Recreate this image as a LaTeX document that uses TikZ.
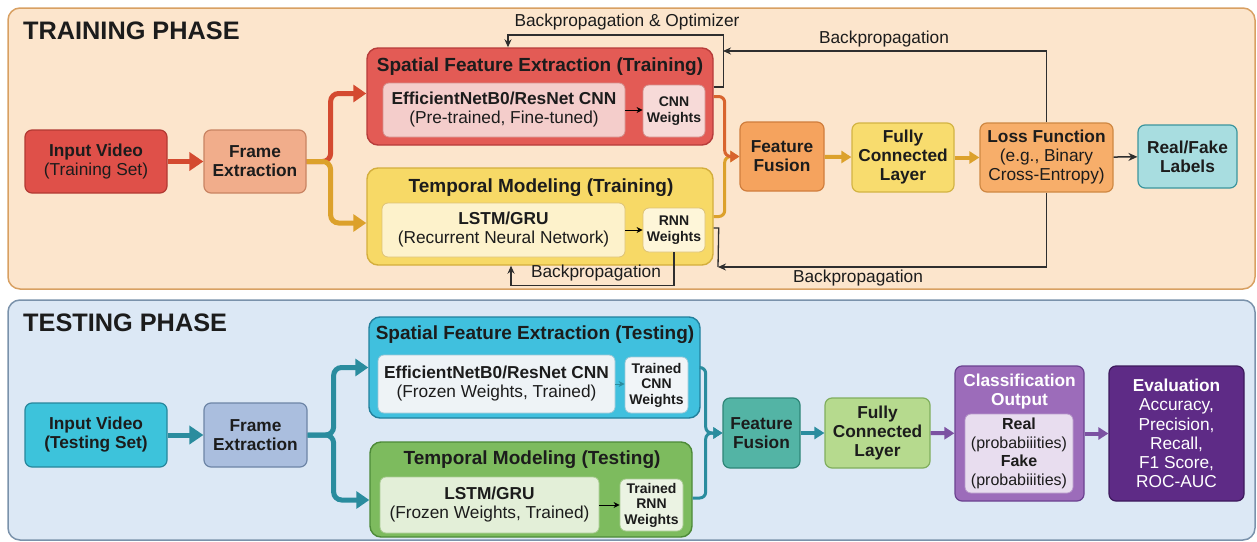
\documentclass[tikz,border=0pt]{standalone}
\usepackage{fontspec}
\setmainfont{Liberation Sans}
\usetikzlibrary{arrows.meta,calc}

\definecolor{txt}{HTML}{1C1C1C}
\definecolor{bpc}{HTML}{2E2E2E}
\definecolor{trainBg}{HTML}{FCE5CC}
\definecolor{trainBd}{HTML}{D8A062}
\definecolor{testBg}{HTML}{DCE8F5}
\definecolor{testBd}{HTML}{7A92AB}
% training colours
\definecolor{inTf}{HTML}{DF5049}\definecolor{inTd}{HTML}{B23A33}
\definecolor{frTf}{HTML}{F1AD8B}\definecolor{frTd}{HTML}{C98463}
\definecolor{spTf}{HTML}{E35B55}\definecolor{spTd}{HTML}{B73C3A}
\definecolor{effTf}{HTML}{F4CDCB}\definecolor{effTd}{HTML}{D4918E}
\definecolor{cnnTf}{HTML}{F7DAD8}
\definecolor{tpTf}{HTML}{F7D966}\definecolor{tpTd}{HTML}{D4AE3C}
\definecolor{lsTf}{HTML}{FDF2CB}\definecolor{lsTd}{HTML}{DDC277}
\definecolor{rnTf}{HTML}{FEF6D9}
\definecolor{ffTf}{HTML}{F5A35E}\definecolor{ffTd}{HTML}{D07E3D}
\definecolor{fcTf}{HTML}{F8DC6E}\definecolor{fcTd}{HTML}{D3B443}
\definecolor{lossf}{HTML}{F7AE6A}\definecolor{lossd}{HTML}{CF8843}
\definecolor{rff}{HTML}{A8DDE0}\definecolor{rfd}{HTML}{3B959D}
% testing colours
\definecolor{inSf}{HTML}{3DC3DB}\definecolor{inSd}{HTML}{27879C}
\definecolor{frSf}{HTML}{AABEDE}\definecolor{frSd}{HTML}{6D85A6}
\definecolor{spSf}{HTML}{40C0DE}\definecolor{spSd}{HTML}{22809C}
\definecolor{effSf}{HTML}{EEF3F6}\definecolor{effSd}{HTML}{9EC8D6}
\definecolor{cnnSf}{HTML}{F1F5F8}
\definecolor{tpSf}{HTML}{7DBB5E}\definecolor{tpSd}{HTML}{4D8A38}
\definecolor{lsSf}{HTML}{E3EFD8}\definecolor{lsSd}{HTML}{A9CB92}
\definecolor{rnSf}{HTML}{EBF3E3}
\definecolor{ffSf}{HTML}{53B4A5}\definecolor{ffSd}{HTML}{2E8577}
\definecolor{fcSf}{HTML}{B6DA8E}\definecolor{fcSd}{HTML}{80AE5E}
\definecolor{clsf}{HTML}{9C6CBA}\definecolor{clsd}{HTML}{6B4290}
\definecolor{clsIf}{HTML}{E8DDEF}\definecolor{clsId}{HTML}{B89BCB}
\definecolor{evf}{HTML}{5E2B86}\definecolor{evd}{HTML}{3D1A5C}
% arrow colours
\definecolor{redA}{HTML}{D44A30}
\definecolor{goldA}{HTML}{DCA12B}
\definecolor{orA}{HTML}{D8642E}
\definecolor{tealA}{HTML}{2A8C9E}
\definecolor{purA}{HTML}{7C52A2}

\newcommand\ftNode{\fontsize{17.3}{19}\selectfont}
\newcommand\ftW{\fontsize{14}{15.5}\selectfont}
\newcommand\ftG{\fontsize{19}{21}\selectfont}
\newcommand\ftPh{\fontsize{25.3}{28}\selectfont}
\newcommand\ftSm{\fontsize{16}{18.7}\selectfont}

\begin{document}
\begin{tikzpicture}[x=1pt,y=-1pt,
  sz/.style 2 args={minimum width=#1pt, minimum height=#2pt},
  panel/.style={draw, rounded corners=12pt, line width=1.5pt, inner sep=0pt},
  box/.style={draw, rounded corners=7pt, line width=1.2pt, align=center, inner sep=0pt, text=txt, font=\ftNode},
  bbox/.style={box, font=\ftNode\bfseries},
  grp/.style={draw, rounded corners=11pt, line width=1.4pt, inner sep=0pt},
  gtitle/.style={font=\ftG\bfseries, text=txt, inner sep=0pt},
  inbox/.style={draw, rounded corners=6pt, line width=0.8pt, align=center, inner sep=0pt, text=txt, font=\ftNode},
  wbox/.style={inbox, font=\ftW\bfseries},
  lbl/.style={font=\ftNode, text=txt, inner sep=0pt},
  bp/.style={draw=bpc, line width=1.3pt},
  bptip/.style={-{Stealth[length=8pt,width=7pt]}},
  fat/.style={line width=5pt, -{Triangle[length=14pt,width=18pt]}},
  branch/.style={line width=5pt, rounded corners=8pt, -{Triangle[length=13pt,width=17pt]}},
  merge/.style={line width=3pt, rounded corners=6pt, -{Triangle[length=9pt,width=11pt]}},
  mid/.style={line width=4pt, -{Triangle[length=10pt,width=12pt]}},
  small/.style={line width=1pt, -{Stealth[length=6pt,width=6pt]}}
]
\useasboundingbox (0,0) rectangle (1257,541);

% ---------------- panels ----------------
\node[panel, fill=trainBg, draw=trainBd, sz={1247}{281}] (trainP) at (631.5,148.5) {};
\node[panel, fill=testBg, draw=testBd, sz={1247}{240}] (testP) at (631.5,420) {};
\node[anchor=base west, font=\ftPh\bfseries, text=txt, inner sep=0pt] (trTitle) at (23,39.5) {TRAINING PHASE};
\node[anchor=base west, font=\ftPh\bfseries, text=txt, inner sep=0pt] (teTitle) at (23,331.5) {TESTING PHASE};

% ---------------- training nodes ----------------
\node[box, fill=inTf, draw=inTd, sz={142}{63}] (inT) at (96,161.5) {\textbf{Input Video}\\(Training Set)};
\node[bbox, fill=frTf, draw=frTd, sz={102}{63}] (frT) at (255,161.5) {Frame\\Extraction};

\node[grp, fill=spTf, draw=spTd, sz={346}{97}] (spT) at (540,96.5) {};
\node[gtitle] (spTt) at (540,67) {Spatial Feature Extraction (Training)};
\node[inbox, fill=effTf, draw=effTd, sz={242}{54}] (effT) at (504,110) {\textbf{EfficientNetB0/ResNet CNN}\\(Pre-trained, Fine-tuned)};
\node[wbox, fill=cnnTf, draw=effTd, sz={62}{52}] (cnnT) at (674,111) {CNN\\Weights};

\node[grp, fill=tpTf, draw=tpTd, sz={346}{97}] (tpT) at (540,216.5) {};
\node[gtitle] (tpTt) at (541,188) {Temporal Modeling (Training)};
\node[inbox, fill=lsTf, draw=lsTd, sz={243}{54}] (lsT) at (503.5,230) {\textbf{LSTM/GRU}\\(Recurrent Neural Network)};
\node[wbox, fill=rnTf, draw=lsTd, sz={62}{44}] (rnT) at (674,230) {RNN\\Weights};

\node[bbox, fill=ffTf, draw=ffTd, sz={84}{69}] (ffT) at (782,156.5) {Feature\\Fusion};
\node[bbox, fill=fcTf, draw=fcTd, sz={102}{69}] (fcT) at (903,157.5) {Fully\\Connected\\Layer};
\node[box, fill=lossf, draw=lossd, sz={133}{69}] (lossT) at (1046.5,157.5) {\textbf{Loss Function}\\(e.g., Binary\\Cross-Entropy)};
\node[bbox, fill=rff, draw=rfd, sz={99}{63}] (rfT) at (1187.5,156.5) {Real/Fake\\Labels};

% training connectors
\draw[fat, draw=redA] (inT) -- (frT);
\draw[branch, draw=redA] (frT.east) -- ++(24,0) |- ([yshift=3pt]spT.west);
\draw[branch, draw=goldA] (frT.east) -- ++(24,0) |- ([yshift=-6.5pt]tpT.west);
\draw[small] (effT.east) -- (effT.east -| cnnT.west);
\draw[small] (lsT.east) -- (lsT.east -| rnT.west);
\draw[merge, draw=goldA] (tpT.east) -- ++(11,0) |- (ffT.west);
\draw[merge, draw=orA] (spT.east) -- ++(11,0) |- (ffT.west);
\draw[mid, draw=goldA] (ffT) -- (fcT);
\draw[mid, draw=goldA] (fcT) -- (lossT);
\draw[line width=1.5pt, draw=bpc, -{Stealth[length=9pt,width=8pt]}] (lossT) -- (rfT);

% backpropagation loops
\coordinate (bpTop) at (723,51);
\coordinate (bpBot) at (718,267);
\draw[bp, bptip] ([yshift=9.5pt]spT.east) -- ++(10,0) -- ++(0,-52) -| ([xshift=-32pt]spT.north);
\draw[bp, bptip] (lossT.north) |- (bpTop);
\draw[bp] ([yshift=-11.5pt]tpT.east) -- ++(5,0) -- (bpBot);
\draw[bp, bptip] (lossT.south) |- (bpBot);
\draw[bp, bptip] (rnT.south) -- ++(0,33) -| ([xshift=-29pt]tpT.south);

\node[lbl] (lbOpt) at (627,22) {Backpropagation \& Optimizer};
\node[lbl] (lbTop) at (884,39) {Backpropagation};
\node[lbl] (lbBot) at (858,278) {Backpropagation};
\node[lbl] (lbRnn) at (596,273) {Backpropagation};

% ---------------- testing nodes ----------------
\node[bbox, fill=inSf, draw=inSd, sz={142}{64}] (inS) at (96,435) {Input Video\\(Testing Set)};
\node[bbox, fill=frSf, draw=frSd, sz={103}{64}] (frS) at (255.5,435) {Frame\\Extraction};

\node[grp, fill=spSf, draw=spSd, sz={331}{101}] (spS) at (534.5,367.5) {};
\node[gtitle] (spSt) at (535,335) {Spatial Feature Extraction (Testing)};
\node[inbox, fill=effSf, draw=effSd, sz={237}{58}] (effS) at (496.5,384) {\textbf{EfficientNetB0/ResNet CNN}\\(Frozen Weights, Trained)};
\node[wbox, fill=cnnSf, draw=effSd, sz={63}{56}] (cnnS) at (656.5,385) {Trained\\CNN\\Weights};

\node[grp, fill=tpSf, draw=tpSd, sz={322}{95}] (tpS) at (531,489.5) {};
\node[gtitle] (tpSt) at (532,460) {Temporal Modeling (Testing)};
\node[inbox, fill=lsSf, draw=lsSd, sz={219}{56}] (lsS) at (489.5,505) {\textbf{LSTM/GRU}\\(Frozen Weights, Trained)};
\node[wbox, fill=rnSf, draw=lsSd, sz={63}{52}] (rnS) at (651.5,505) {Trained\\RNN\\Weights};

\node[bbox, fill=ffSf, draw=ffSd, sz={77}{70}] (ffS) at (761.5,433) {Feature\\Fusion};
\node[bbox, fill=fcSf, draw=fcSd, sz={105}{70}] (fcS) at (877.5,433) {Fully\\Connected\\Layer};
\node[box, fill=clsf, draw=clsd, sz={129}{135}] (clsS) at (1019.5,433.5) {};
\node[font=\ftNode\bfseries, text=white, align=center, inner sep=0pt] (clsT) at (1019.5,392) {Classification\\Output};
\node[inbox, fill=clsIf, draw=clsId, sz={108}{79}, font=\ftSm] (clsI) at (1019,453.5) {\textbf{Real}\\(probabiiities)\\\textbf{Fake}\\(probabiiities)};
\node[box, fill=evf, draw=evd, sz={135}{135}, text=white, font=\fontsize{17.3}{19.2}\selectfont] (evS) at (1176.5,433.5) {\textbf{Evaluation}\\Accuracy,\\Precision,\\Recall,\\F1 Score,\\ROC-AUC};

% testing connectors
\draw[fat, draw=tealA] (inS) -- (frS);
\draw[branch, draw=tealA] (frS.east) -- ++(26,0) |- (spS.west);
\draw[branch, draw=tealA] (frS.east) -- ++(26,0) |- ([yshift=-10.5pt]tpS.west);
\draw[small, draw=tealA] (effS.east) -- (effS.east -| cnnS.west);
\draw[small] (lsS.east) -- (lsS.east -| rnS.west);
\draw[merge, draw=tealA] (spS.east) -- ++(5,0) |- (ffS.west);
\draw[merge, draw=tealA] ([yshift=-8.5pt]tpS.east) -- ++(13,0) |- (ffS.west);
\draw[mid, draw=tealA] (ffS) -- (fcS);
\draw[mid, draw=purA] (fcS) -- (clsS);
\draw[mid, draw=purA] (clsS) -- (evS);
\end{tikzpicture}
\end{document}
